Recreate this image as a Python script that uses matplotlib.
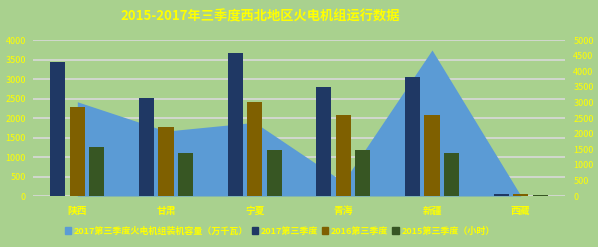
import numpy as np
import matplotlib.pyplot as plt
from matplotlib.patches import Patch

plt.rcParams['font.family'] = ['Noto Sans CJK SC', 'DejaVu Sans']

# data
regions = ['陕西', '甘肃', '宁夏', '青海', '新疆', '西藏']
capacity_2017 = [3020, 2080, 2360, 450, 4680, 20]      # 装机容量(万千瓦), right axis
hours_2017 = [3440, 2510, 3670, 2800, 3050, 50]
hours_2016 = [2280, 1770, 2410, 2080, 2080, 50]
hours_2015 = [1260, 1100, 1180, 1180, 1100, 25]

bg = '#A9D18E'
yellow = '#FFFF00'
c_area = '#5B9BD5'
c17, c16, c15 = '#1F3864', '#7F6000', '#375623'

fig = plt.figure(figsize=(5.98, 2.47), dpi=100, facecolor=bg)
ax = fig.add_axes([33/598, 1 - 196/247, (565 - 33)/598, (196 - 40)/247])
ax.set_facecolor(bg)
x = np.arange(len(regions))

# grid layer (left scale)
ax.set_ylim(0, 4000)
ax.set_yticks(np.arange(0, 4001, 500))
ax.grid(axis='y', color='#D9D9D9', linewidth=1.2)
ax.set_axisbelow(True)

# area layer (right scale)
ax_area = ax.twinx()
ax_area.fill_between(x, capacity_2017, color=c_area, linewidth=0)
ax_area.set_ylim(0, 5000)
ax_area.set_yticks(np.arange(0, 5001, 500))

# bar layer (left scale)
ax_bar = ax.twinx()
w, off = 0.17, 0.22
ax_bar.bar(x - off, hours_2017, w, color=c17)
ax_bar.bar(x, hours_2016, w, color=c16)
ax_bar.bar(x + off, hours_2015, w, color=c15)
ax_bar.set_ylim(0, 4000)
ax_bar.set_yticks([])

for a in (ax, ax_area, ax_bar):
    a.set_xlim(-0.5, 5.5)
    for s in a.spines.values():
        s.set_visible(False)
    a.tick_params(length=0, colors=yellow, labelsize=6.5)

ax.set_xticks(x)
ax.set_xticklabels(regions, fontsize=7, fontweight='bold', color=yellow)
ax.tick_params(axis='x', pad=7)
ax.tick_params(axis='y', pad=5)
ax_area.tick_params(axis='y', pad=6)

fig.text(260/598, 1 - 16/247, '2015-2017年三季度西北地区火电机组运行数据', ha='center', va='center',
         color=yellow, fontsize=9.5, fontweight='bold')

handles = [Patch(color=c_area), Patch(color=c17), Patch(color=c16), Patch(color=c15)]
labels = ['2017第三季度火电机组装机容量（万千瓦）', '2017第三季度', '2016第三季度', '2015第三季度（小时）']
leg = fig.legend(handles, labels, loc='center', bbox_to_anchor=(0.468, 1 - 231/247), ncol=4,
                 frameon=False, fontsize=6.5, handlelength=0.7, handleheight=0.7,
                 handletextpad=0.3, columnspacing=0.4)
for t in leg.get_texts():
    t.set_color(yellow)
    t.set_fontweight('bold')

fig.savefig('out.png', dpi=100, facecolor=bg)
